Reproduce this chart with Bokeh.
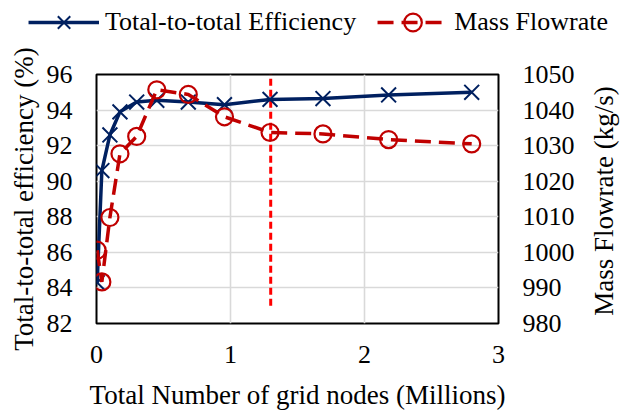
import math
from bokeh.plotting import figure
from bokeh.layouts import column, row
from bokeh.models import Range1d, LinearAxis, FixedTicker, Legend, LegendItem, Label
from bokeh.embed import file_html
from bokeh.resources import INLINE

# Data
grid_nodes = [0.005, 0.04, 0.10, 0.175, 0.30, 0.45, 0.685, 0.955, 1.295, 1.69, 2.18, 2.80]
efficiency = [84.3, 90.6, 92.6, 93.9, 94.45, 94.55, 94.45, 94.3, 94.6, 94.65, 94.85, 95.0]
mass_flow = [1000.6, 991.7, 1009.8, 1027.7, 1032.6, 1045.7, 1044.4, 1038.1, 1033.7, 1033.3, 1031.7, 1030.5]
x_ticks = [0, 1, 2, 3]
eff_ticks = [82, 84, 86, 88, 90, 92, 94, 96]
mass_ticks = [980, 990, 1000, 1010, 1020, 1030, 1040, 1050]
selected_mesh = [1.3]
marker_line = [985, 1050]
y2_label = "Mass Flowrate (kg/s)"

FONT = "Liberation Serif"
NAVY = "#002060"
DRED = "#C00000"

W = 622
LEG_H = 44
MAIN_H = 368
MAIN_W = 577
TOP = 30              # frame top at 74 overall
BOTTOM = MAIN_H - TOP - 253

def no_align(fig):
    try:
        fig.frame_align = False
    except Exception:
        pass

def add_series(fig):
    el = fig.line(grid_nodes, efficiency, line_color=NAVY, line_width=3.5)
    em = fig.scatter(grid_nodes, efficiency, marker="x", size=21, line_color=NAVY, line_width=2)
    ml = fig.line(grid_nodes, mass_flow, y_range_name="mass", line_color=DRED, line_width=3.5,
                  line_dash="16 8")
    mm = fig.scatter(grid_nodes, mass_flow, y_range_name="mass", marker="circle", size=17,
                     line_color=DRED, line_width=2.2, fill_color=None)
    return el, em, ml, mm

# ---------------- main chart ----------------
p = figure(width=MAIN_W, height=MAIN_H, output_backend="svg", toolbar_location=None,
           x_range=Range1d(0, 3), y_range=Range1d(82, 96),
           min_border_left=96, min_border_right=MAIN_W - 501, min_border_top=TOP,
           min_border_bottom=BOTTOM)
no_align(p)
p.extra_y_ranges = {"mass": Range1d(980, 1050)}

p.outline_line_color = "black"
p.outline_line_width = 2
p.background_fill_color = "white"
p.border_fill_color = "white"

p.xgrid.ticker = FixedTicker(ticks=x_ticks)
p.ygrid.ticker = FixedTicker(ticks=eff_ticks)
p.grid.grid_line_color = "#D9D9D9"
p.grid.grid_line_width = 1.6

def style_axis(ax, ticks, label, label_size="27px", tick_size="26px"):
    ax.ticker = FixedTicker(ticks=ticks)
    if label is not None:
        ax.axis_label = label
    ax.axis_line_color = None
    ax.major_tick_line_color = None
    ax.minor_tick_line_color = None
    ax.major_tick_out = 0
    ax.major_tick_in = 0
    ax.minor_tick_out = 0
    ax.major_label_text_font = FONT
    ax.major_label_text_font_size = tick_size
    ax.major_label_text_color = "black"
    ax.axis_label_text_font = FONT
    ax.axis_label_text_font_size = label_size
    ax.axis_label_text_font_style = "normal"
    ax.axis_label_text_color = "black"

style_axis(p.xaxis[0], x_ticks, "Total Number of grid nodes (Millions)")
p.xaxis[0].major_label_standoff = 22
p.xaxis[0].axis_label_standoff = 14
style_axis(p.yaxis[0], eff_ticks, "Total-to-total efficiency (%)")
p.yaxis[0].major_label_standoff = 24
p.yaxis[0].axis_label_standoff = 5

raxis = LinearAxis(y_range_name="mass")
style_axis(raxis, mass_ticks, None)
raxis.major_label_standoff = 24
p.add_layout(raxis, "right")

p.segment(x0=selected_mesh, y0=[marker_line[0]], x1=selected_mesh, y1=[marker_line[1]],
          y_range_name="mass", line_color="#FF0000", line_width=3, line_dash="7 4")
add_series(p)

# ---------------- right axis title strip ----------------
rl = figure(width=W - MAIN_W, height=MAIN_H, output_backend="svg", toolbar_location=None,
            x_range=Range1d(0, 1), y_range=Range1d(0, 1),
            x_axis_location=None, y_axis_location=None,
            min_border_left=0, min_border_right=0, min_border_top=TOP, min_border_bottom=BOTTOM)
no_align(rl)
rl.grid.visible = False
rl.outline_line_color = None
rl.border_fill_color = "white"
rl.background_fill_color = "white"
rl.add_layout(Label(x=26, y=0.5, x_units="screen", y_units="data", text=y2_label,
                    angle=math.pi / 2, text_align="center", text_baseline="middle",
                    text_font=FONT, text_font_size="27px", text_color="black"))

# ---------------- legend strip (same series, outside its visible range) ----------------
lg = figure(width=W, height=LEG_H, output_backend="svg", toolbar_location=None,
            x_range=Range1d(0, 3), y_range=Range1d(0, 1),
            x_axis_location=None, y_axis_location=None,
            min_border_left=14, min_border_right=0, min_border_top=0, min_border_bottom=0)
no_align(lg)
lg.extra_y_ranges = {"mass": Range1d(0, 1)}
lg.grid.visible = False
lg.outline_line_color = None
lg.border_fill_color = "white"
lg.background_fill_color = "white"
e_l, e_m, m_l, m_m = add_series(lg)

legend = Legend(items=[LegendItem(label="Total-to-total Efficiency", renderers=[e_l, e_m]),
                       LegendItem(label="Mass Flowrate", renderers=[m_l, m_m])],
                orientation="horizontal", location="center",
                label_text_font=FONT, label_text_font_size="26px", label_text_color="black",
                glyph_width=71, glyph_height=44, label_standoff=6, spacing=21,
                background_fill_alpha=0, border_line_color=None, padding=0, margin=0)
lg.add_layout(legend, "center")

layout = column(lg, row(p, rl, spacing=0), spacing=0)
open("out.html", "w").write(file_html(layout, INLINE))
